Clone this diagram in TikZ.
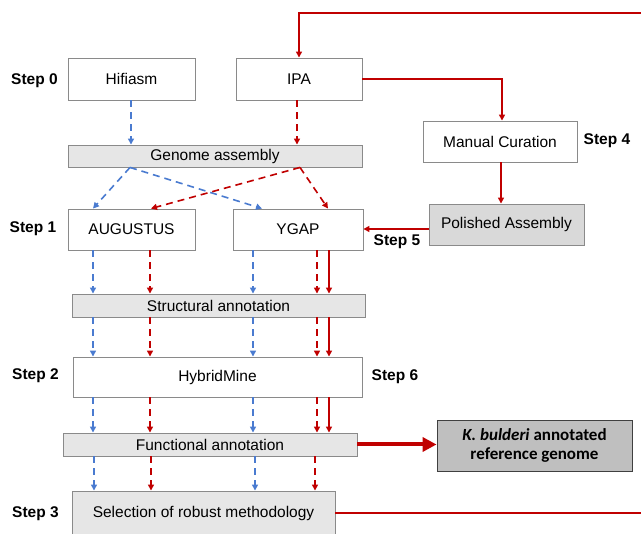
\documentclass[tikz,border=0pt]{standalone}
\usepackage{fontspec}
\setmainfont{Liberation Sans}
\newfontfamily\calibri{Carlito}
\usetikzlibrary{arrows.meta}
\definecolor{myblue}{HTML}{4A7BD0}
\definecolor{myred}{HTML}{C00000}
\definecolor{boxgray}{HTML}{8A8A8A}
\definecolor{bargray}{HTML}{E6E6E6}
\definecolor{polgray}{HTML}{D9D9D9}
\definecolor{kgray}{HTML}{BFBFBF}
\begin{document}
\begin{tikzpicture}[x=1pt,y=-1pt,
  box/.style={draw=boxgray, line width=0.9pt, fill=white, inner sep=0pt, font=\fontsize{15.5}{18}\selectfont},
  bar/.style={box, fill=bargray},
  steplbl/.style={font=\fontsize{15.5}{18}\selectfont\bfseries, inner sep=0pt},
  tip/.style={-{Triangle[length=6pt,width=6pt]}},
  bluedash/.style={tip, draw=myblue, line width=1.6pt, dash pattern=on 7pt off 5pt},
  reddash/.style={tip, draw=myred, line width=1.6pt, dash pattern=on 7pt off 5pt},
  redsolid/.style={tip, draw=myred, line width=1.6pt},
]
\useasboundingbox (0,0) rectangle (641,534);
\clip (0,0) rectangle (641,534);

% boxes
\node[box, minimum width=127, minimum height=42] (hifiasm) at (131.5,79) {Hifiasm};
\node[box, minimum width=126, minimum height=42] (ipa) at (299,79) {IPA};
\node[bar, minimum width=294, minimum height=22] (genome) at (215,156) {Genome assembly};
\node[box, minimum width=154, minimum height=41] (manual) at (500,141.5) {Manual Curation};
\node[box, fill=polgray, minimum width=155, minimum height=41] (polished) at (506.5,224.5) {Polished Assembly};
\node[box, minimum width=127, minimum height=41] (augustus) at (131.5,229.5) {AUGUSTUS};
\node[box, minimum width=130, minimum height=41] (ygap) at (298,229.5) {YGAP};
\node[bar, minimum width=293, minimum height=23] (structural) at (218.5,305.5) {Structural annotation};
\node[box, minimum width=289, minimum height=40] (hybrid) at (217.5,377) {HybridMine};
\node[bar, minimum width=294, minimum height=23] (functional) at (210,444.5) {Functional annotation};
\node[box, draw=black!75, fill=kgray, minimum width=195, minimum height=51, align=center,
      font=\calibri\bfseries\fontsize{17}{19}\selectfont] (kb) at (534.5,445.5)
      {{\itshape K. bulderi} annotated\\reference genome};
\node[bar, minimum width=263, minimum height=44] (selection) at (203.5,513) {Selection of robust methodology};

% step labels
\node[steplbl] (s0) at (34.5,81) {Step 0};
\node[steplbl] (s1) at (33,229) {Step 1};
\node[steplbl] (s2) at (35.5,376) {Step 2};
\node[steplbl] (s3) at (35.5,514) {Step 3};
\node[steplbl] (s4) at (607,141) {Step 4};
\node[steplbl] (s5) at (397,242) {Step 5};
\node[steplbl] (s6) at (395,377) {Step 6};

% red loop from selection back to IPA
\coordinate (loopA) at (660,513);
\coordinate (loopB) at (660,13);
\draw[redsolid] (selection.east) -- (loopA) -- (loopB) -| (ipa.north);

% IPA -> manual -> polished -> YGAP
\draw[redsolid] (ipa.east) -| ([xshift=2pt]manual.north);
\draw[redsolid] ([xshift=1pt]manual.south) -- ([xshift=1pt]manual.south |- polished.north);
\draw[redsolid, line width=2pt] ([yshift=0.5pt]polished.west |- ygap.east) -- ([yshift=0.5pt]ygap.east);

% thick arrow
\draw[myred, line width=4pt, -{Triangle[length=14pt,width=14pt]}] (functional.east) -- (kb.west |- functional.east);

% step 0 -> genome
\coordinate (hx) at (131,0);
\coordinate (ix) at (297,0);
\draw[bluedash] (hifiasm.south -| hx) -- (genome.north -| hx);
\draw[reddash] (ipa.south -| ix) -- (genome.north -| ix);

% genome -> step 1
\coordinate (gb) at (130,0);
\coordinate (gr) at (300,0);
\coordinate (ab) at (93,0);
\coordinate (ar) at (151,0);
\coordinate (yb) at (262,0);
\coordinate (yr) at (328,0);
\draw[bluedash] (genome.south -| gb) -- (augustus.north -| ab);
\draw[bluedash] (genome.south -| gb) -- (ygap.north -| yb);
\draw[reddash] (genome.south -| gr) -- (augustus.north -| ar);
\draw[reddash] (genome.south -| gr) -- (ygap.north -| yr);

% vertical columns
\coordinate (c1) at (93,0);
\coordinate (c2) at (150,0);
\coordinate (c3) at (253,0);
\coordinate (c4) at (317,0);
\coordinate (c5) at (329,0);
\coordinate (d1) at (94,0);
\coordinate (d2) at (151,0);
\coordinate (d3) at (255,0);
\coordinate (d4) at (315,0);

\draw[bluedash] (augustus.south -| c1) -- (structural.north -| c1);
\draw[reddash] (augustus.south -| c2) -- (structural.north -| c2);
\draw[bluedash] (ygap.south -| c3) -- (structural.north -| c3);
\draw[reddash] (ygap.south -| c4) -- (structural.north -| c4);
\draw[redsolid] (ygap.south -| c5) -- (structural.north -| c5);

\draw[bluedash] (structural.south -| c1) -- (hybrid.north -| c1);
\draw[reddash] (structural.south -| c2) -- (hybrid.north -| c2);
\draw[bluedash] (structural.south -| c3) -- (hybrid.north -| c3);
\draw[reddash] (structural.south -| c4) -- (hybrid.north -| c4);
\draw[redsolid] (structural.south -| c5) -- (hybrid.north -| c5);

\draw[bluedash] (hybrid.south -| c1) -- (functional.north -| c1);
\draw[reddash] (hybrid.south -| c2) -- (functional.north -| c2);
\draw[bluedash] (hybrid.south -| c3) -- (functional.north -| c3);
\draw[reddash] (hybrid.south -| c4) -- (functional.north -| c4);
\draw[redsolid] (hybrid.south -| c5) -- (functional.north -| c5);

\draw[bluedash] (functional.south -| d1) -- (selection.north -| d1);
\draw[reddash] (functional.south -| d2) -- (selection.north -| d2);
\draw[bluedash] (functional.south -| d3) -- (selection.north -| d3);
\draw[reddash] (functional.south -| d4) -- (selection.north -| d4);
\end{tikzpicture}
\end{document}
